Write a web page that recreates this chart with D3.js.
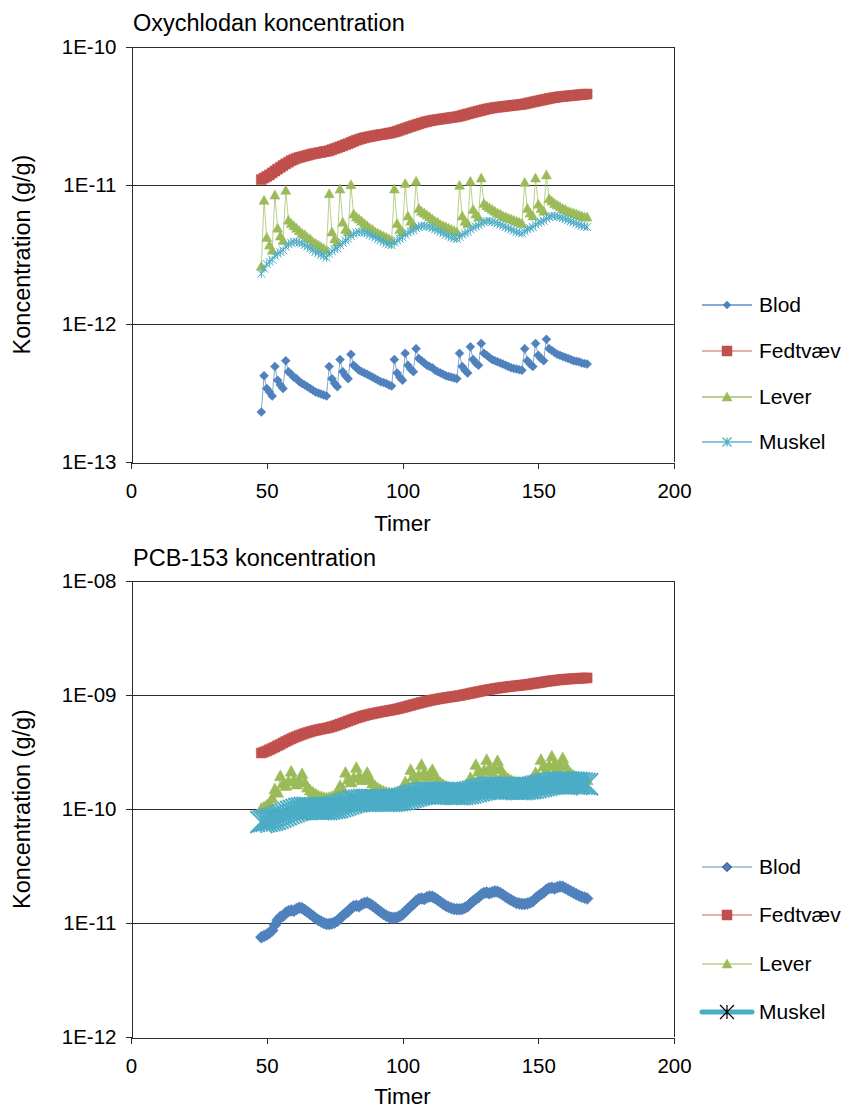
<!DOCTYPE html>
<html>
<head>
<meta charset="utf-8">
<script src="https://cdn.jsdelivr.net/npm/d3@7"></script>
<style>
  body { margin: 0; background: #fff; }
  svg { display: block; font-family: "Liberation Sans", Arial, sans-serif; }
</style>
</head>
<body>
<svg id="chart" width="845" height="1110"></svg>
<script>
// All concentrations below are in units of 1E-12 g/g
const UNIT = 1e-12;

// sampling times (hours)
const hours = [
  48, 49, 50, 51, 52, 53, 54, 55, 56, 57, 58, 59, 60, 61, 62, 63, 64, 65, 66, 67, 68, 69, 70, 71, 72,
  73, 74, 75, 76, 77, 78, 79, 80, 81, 82, 83, 84, 85, 86, 87, 88, 89, 90, 91, 92, 93, 94, 95, 96,
  97, 98, 99, 100, 101, 102, 103, 104, 105, 106, 107, 108, 109, 110, 111, 112, 113, 114, 115, 116, 117, 118, 119, 120,
  121, 122, 123, 124, 125, 126, 127, 128, 129, 130, 131, 132, 133, 134, 135, 136, 137, 138, 139, 140, 141, 142, 143, 144,
  145, 146, 147, 148, 149, 150, 151, 152, 153, 154, 155, 156, 157, 158, 159, 160, 161, 162, 163, 164, 165, 166, 167, 168
];

const seriesNames = ["Blod", "Fedtvæv", "Lever", "Muskel"];
const seriesColors = ["#4f81bd", "#c0504d", "#9bbb59", "#4bacc6"];
const seriesMarkers = ["diamond", "square", "triangle", "asterisk"];

const xTicks = [0, 50, 100, 150, 200];

// ---- Oxychlodan ----
const oxyBlod = [
  0.23, 0.42, 0.34, 0.32, 0.30, 0.49, 0.39, 0.36, 0.34, 0.54, 0.45, 0.43, 0.41, 0.40, 0.38, 0.37, 0.36, 0.35, 0.34, 0.33, 0.32, 0.315, 0.31, 0.305, 0.30,
  0.49, 0.40, 0.37, 0.35, 0.55, 0.45, 0.42, 0.40, 0.60, 0.50, 0.48, 0.46, 0.45, 0.44, 0.43, 0.42, 0.41, 0.40, 0.39, 0.38, 0.375, 0.37, 0.36, 0.355,
  0.55, 0.44, 0.41, 0.39, 0.61, 0.50, 0.47, 0.45, 0.66, 0.56, 0.54, 0.52, 0.50, 0.49, 0.48, 0.46, 0.45, 0.44, 0.43, 0.42, 0.415, 0.41, 0.405, 0.40,
  0.61, 0.49, 0.46, 0.44, 0.68, 0.55, 0.52, 0.50, 0.72, 0.61, 0.59, 0.57, 0.55, 0.54, 0.53, 0.52, 0.51, 0.50, 0.49, 0.48, 0.475, 0.47, 0.465, 0.46,
  0.66, 0.54, 0.51, 0.49, 0.72, 0.59, 0.56, 0.54, 0.77, 0.66, 0.64, 0.62, 0.60, 0.59, 0.58, 0.57, 0.56, 0.55, 0.54, 0.535, 0.53, 0.52, 0.515, 0.51
];
const oxyFedt = [
  11.0, 11.3, 11.6, 11.9, 12.3, 12.7, 13.1, 13.5, 13.9, 14.3, 14.7, 15.1, 15.4, 15.7, 15.9, 16.1, 16.3, 16.5, 16.7, 16.9, 17.0, 17.2, 17.3, 17.5, 17.6,
  17.8, 18.1, 18.4, 18.7, 19.0, 19.3, 19.7, 20.0, 20.4, 20.8, 21.2, 21.5, 21.8, 22.1, 22.3, 22.5, 22.7, 22.9, 23.1, 23.3, 23.4, 23.6, 23.8, 24.0,
  24.3, 24.6, 25.0, 25.4, 25.8, 26.2, 26.6, 27.0, 27.4, 27.8, 28.2, 28.6, 28.9, 29.2, 29.5, 29.7, 29.9, 30.1, 30.3, 30.5, 30.7, 30.9, 31.1, 31.3,
  31.6, 32.0, 32.4, 32.8, 33.2, 33.6, 34.0, 34.4, 34.8, 35.2, 35.6, 35.9, 36.2, 36.5, 36.7, 36.9, 37.1, 37.3, 37.5, 37.7, 37.9, 38.1, 38.3, 38.5,
  38.8, 39.2, 39.6, 40.0, 40.4, 40.8, 41.2, 41.6, 42.0, 42.4, 42.8, 43.1, 43.4, 43.7, 43.9, 44.1, 44.3, 44.5, 44.7, 44.9, 45.1, 45.3, 45.5, 45.7
];
const oxyLever = [
  2.6, 7.8, 4.2, 3.7, 3.4, 8.5, 4.9, 4.3, 4.0, 9.2, 5.6, 5.3, 5.1, 4.9, 4.7, 4.5, 4.4, 4.2, 4.1, 3.9, 3.8, 3.7, 3.6, 3.5, 3.4,
  8.7, 4.6, 4.1, 3.9, 9.4, 5.4, 4.8, 4.6, 10.1, 6.2, 5.9, 5.7, 5.5, 5.3, 5.1, 4.9, 4.8, 4.6, 4.5, 4.4, 4.3, 4.2, 4.1, 4.0,
  9.4, 5.3, 4.8, 4.6, 10.3, 6.0, 5.5, 5.2, 10.7, 6.8, 6.5, 6.3, 6.1, 5.9, 5.7, 5.5, 5.4, 5.2, 5.1, 5.0, 4.9, 4.8, 4.7, 4.6,
  10.0, 6.0, 5.5, 5.3, 10.7, 6.7, 6.2, 5.9, 11.3, 7.4, 7.1, 6.9, 6.7, 6.5, 6.3, 6.2, 6.0, 5.9, 5.8, 5.7, 5.6, 5.5, 5.4, 5.3,
  10.5, 6.8, 6.3, 6.0, 11.3, 7.3, 6.8, 6.5, 11.9, 8.0, 7.7, 7.4, 7.2, 7.0, 6.8, 6.7, 6.5, 6.4, 6.3, 6.2, 6.1, 6.0, 5.9, 5.9
];
const oxyMuskel = [
  2.3, 2.5, 2.7, 2.8, 2.9, 3.1, 3.2, 3.3, 3.4, 3.6, 3.75, 3.85, 3.9, 3.9, 3.85, 3.8, 3.7, 3.6, 3.5, 3.4, 3.3, 3.25, 3.15, 3.1, 3.0,
  3.2, 3.35, 3.45, 3.5, 3.7, 3.85, 4.0, 4.1, 4.3, 4.45, 4.55, 4.6, 4.6, 4.55, 4.5, 4.4, 4.3, 4.2, 4.1, 4.0, 3.9, 3.8, 3.75, 3.7,
  3.85, 4.0, 4.1, 4.2, 4.4, 4.55, 4.65, 4.75, 4.9, 5.0, 5.1, 5.1, 5.05, 5.0, 4.9, 4.8, 4.7, 4.6, 4.5, 4.4, 4.3, 4.2, 4.15, 4.1,
  4.25, 4.4, 4.5, 4.6, 4.8, 4.95, 5.05, 5.15, 5.3, 5.45, 5.5, 5.5, 5.45, 5.4, 5.3, 5.2, 5.1, 5.0, 4.9, 4.8, 4.7, 4.6, 4.55, 4.5,
  4.65, 4.8, 4.9, 5.0, 5.2, 5.35, 5.45, 5.55, 5.75, 5.9, 6.0, 6.0, 5.95, 5.9, 5.8, 5.7, 5.6, 5.5, 5.4, 5.3, 5.2, 5.1, 5.05, 5.0
];
const oxyYTicks = [1e-13, 1e-12, 1e-11, 1e-10];
const oxyYLabels = ["1E-13", "1E-12", "1E-11", "1E-10"];

// ---- PCB-153 ----
const pcbBlod = [
  7.5, 7.7, 7.9, 8.2, 8.6, 9.6, 10.6, 11.3, 11.5, 12.3, 12.7, 12.9, 12.8, 13.3, 13.6, 13.5, 13.0, 12.5, 12.0, 11.5, 11.0, 10.6, 10.3, 10.0, 9.8,
  9.8, 9.9, 10.1, 10.4, 11.0, 11.6, 12.2, 12.6, 13.5, 14.0, 14.2, 14.0, 14.6, 15.0, 15.1, 14.7, 14.2, 13.6, 13.0, 12.5, 12.0, 11.6, 11.3, 11.1,
  11.1, 11.2, 11.5, 11.9, 12.6, 13.3, 14.0, 14.6, 15.6, 16.2, 16.4, 16.2, 16.8, 17.1, 17.0, 16.5, 15.9, 15.3, 14.7, 14.2, 13.8, 13.5, 13.3, 13.2,
  13.2, 13.3, 13.6, 14.0, 14.8, 15.5, 16.2, 16.8, 17.8, 18.3, 18.5, 18.2, 18.6, 18.9, 18.8, 18.3, 17.7, 17.0, 16.4, 15.9, 15.4, 15.0, 14.8, 14.7,
  14.7, 14.8, 15.1, 15.5, 16.4, 17.2, 17.9, 18.5, 19.6, 20.2, 20.4, 20.1, 20.6, 20.9, 20.8, 20.2, 19.6, 19.0, 18.4, 17.9, 17.4, 17.0, 16.7, 16.4
];
const pcbFedt = [
  310, 316, 323, 331, 340, 349, 359, 369, 380, 391, 402, 413, 423, 433, 442, 451, 460, 468, 476, 483, 490, 496, 502, 507, 512,
  519, 527, 536, 546, 557, 568, 580, 592, 604, 616, 628, 639, 650, 660, 669, 678, 686, 694, 702, 710, 717, 724, 731, 738,
  746, 755, 765, 776, 787, 799, 811, 823, 835, 847, 859, 871, 882, 893, 903, 913, 922, 931, 940, 948, 956, 964, 972, 980,
  989, 999, 1010, 1022, 1034, 1046, 1058, 1070, 1082, 1094, 1106, 1117, 1128, 1138, 1148, 1157, 1166, 1175, 1183, 1191, 1199, 1206, 1213, 1220,
  1228, 1237, 1247, 1258, 1269, 1280, 1291, 1302, 1313, 1324, 1334, 1343, 1352, 1360, 1367, 1374, 1380, 1386, 1391, 1396, 1400, 1404, 1408, 1412
];
const pcbLever = [
  101, 104, 108, 113, 125, 150, 140, 195, 168, 160, 175, 214, 180, 165, 178, 204, 172, 155, 146, 140, 135, 131, 128, 126, 125,
  126, 128, 132, 140, 160, 150, 209, 182, 172, 188, 231, 195, 180, 190, 209, 182, 168, 158, 152, 147, 143, 140, 138, 136,
  137, 139, 143, 152, 172, 162, 221, 195, 182, 198, 245, 208, 192, 202, 221, 195, 180, 170, 163, 158, 154, 151, 149, 147,
  148, 150, 155, 165, 188, 176, 245, 215, 200, 218, 271, 230, 212, 225, 265, 228, 205, 192, 184, 178, 174, 171, 169, 168,
  169, 171, 175, 185, 208, 195, 271, 238, 222, 240, 290, 248, 230, 242, 280, 240, 218, 205, 197, 191, 187, 184, 182, 180
];
const pcbMuskel = [
  77, 78, 79, 80, 81, 82, 84, 86, 88, 90, 92, 94, 96, 98, 100, 101, 102, 102, 102, 101, 101, 100, 100, 100, 100,
  101, 102, 103, 104, 106, 108, 110, 112, 114, 116, 117, 118, 119, 120, 120, 120, 120, 120, 119, 119, 118, 118, 118, 118,
  119, 120, 121, 122, 124, 126, 128, 130, 132, 134, 136, 137, 138, 138, 139, 139, 139, 138, 138, 137, 137, 136, 136, 135,
  135, 136, 137, 138, 140, 142, 144, 146, 148, 150, 152, 153, 154, 154, 154, 154, 153, 152, 152, 151, 151, 150, 150, 150,
  151, 152, 153, 154, 156, 158, 160, 162, 164, 166, 167, 168, 169, 170, 170, 171, 171, 170, 170, 169, 168, 167, 166, 165
];
const pcbYTicks = [1e-12, 1e-11, 1e-10, 1e-9, 1e-8];
const pcbYLabels = ["1E-12", "1E-11", "1E-10", "1E-09", "1E-08"];

// marker shapes, r = half size in px
function markerPath(type, r) {
    switch (type) {
        case "diamond":  return `M0,${-r}L${r},0L0,${r}L${-r},0Z`;
        case "square":   return `M${-r},${-r}H${r}V${r}H${-r}Z`;
        case "triangle": return `M0,${-r}L${r},${r * 0.8}L${-r},${r * 0.8}Z`;
        case "asterisk": return `M${-r},${-r}L${r},${r}M${-r},${r}L${r},${-r}M0,${-r}L0,${r}`;
    }
}

function drawChart(svg, c) {
    const x = d3.scaleLinear().domain([0, 200]).range([c.left, c.right]);
    const y = d3.scaleLog()
        .domain([c.yTicks[0], c.yTicks[c.yTicks.length - 1]])
        .range([c.bottom, c.top]);
    const crisp = v => Math.round(v) + 0.5;

    const g = svg.append("g");

    // horizontal gridlines + right border of plot area
    g.append("g").selectAll("line")
        .data(c.yTicks.slice(1))
        .join("line")
        .attr("x1", c.left).attr("x2", c.right)
        .attr("y1", d => crisp(y(d))).attr("y2", d => crisp(y(d)))
        .attr("stroke", "#2b2b2b");
    g.append("line")
        .attr("x1", crisp(c.right)).attr("x2", crisp(c.right))
        .attr("y1", c.top).attr("y2", c.bottom)
        .attr("stroke", "#2b2b2b");

    // axes
    const yAxis = g.append("g")
        .attr("transform", `translate(${crisp(c.left)},0)`)
        .call(d3.axisLeft(y)
            .tickValues(c.yTicks)
            .tickFormat((d, i) => c.yLabels[i])
            .tickSize(6).tickSizeOuter(0).tickPadding(9));
    const xAxis = g.append("g")
        .attr("transform", `translate(0,${crisp(c.bottom)})`)
        .call(d3.axisBottom(x)
            .tickValues(xTicks)
            .tickSize(6).tickSizeOuter(0).tickPadding(15));
    [yAxis, xAxis].forEach(a => {
        a.selectAll("path, line").attr("stroke", "#2b2b2b").attr("shape-rendering", "crispEdges");
        a.selectAll("text")
            .attr("fill", "#000")
            .style("font-size", "20.5px")
            .style("font-family", "'Liberation Sans', Arial, sans-serif");
    });

    // titles
    g.append("text")
        .attr("x", c.left + 2).attr("y", c.titleY)
        .style("font-size", "23.5px")
        .text(c.title);
    g.append("text")
        .attr("x", (c.left + c.right) / 2).attr("y", c.xTitleY)
        .attr("text-anchor", "middle")
        .style("font-size", "22.5px")
        .text("Timer");
    g.append("text")
        .attr("transform", `translate(30,${(c.top + c.bottom) / 2}) rotate(-90)`)
        .attr("text-anchor", "middle")
        .style("font-size", "23.5px")
        .text("Koncentration (g/g)");

    // series: line then markers, in legend order
    c.series.forEach((values, si) => {
        const st = c.styles[si];
        const color = seriesColors[si];
        const pts = hours.map((h, i) => [x(h), y(values[i] * UNIT)]);

        g.append("path")
            .attr("d", d3.line()(pts))
            .attr("fill", "none")
            .attr("stroke", color)
            .attr("stroke-opacity", st.lineOpacity)
            .attr("stroke-width", st.lineWidth)
            .attr("stroke-linejoin", "round");

        const isStroke = seriesMarkers[si] === "asterisk";
        g.append("g").selectAll("path")
            .data(pts)
            .join("path")
            .attr("transform", d => `translate(${d[0]},${d[1]})`)
            .attr("d", markerPath(seriesMarkers[si], st.r))
            .attr("fill", isStroke ? "none" : color)
            .attr("stroke", color)
            .attr("stroke-width", isStroke ? st.markerStroke : 0.5);
    });

    // legend
    const leg = g.append("g");
    seriesNames.forEach((name, si) => {
        const st = c.styles[si];
        const ly = c.legendY[si];
        const color = seriesColors[si];
        leg.append("line")
            .attr("x1", 702).attr("x2", 752)
            .attr("y1", ly).attr("y2", ly)
            .attr("stroke", color)
            .attr("stroke-opacity", st.legendLineOpacity)
            .attr("stroke-width", st.legendLineWidth)
            .attr("stroke-linecap", st.legendLineWidth > 3 ? "round" : "butt");
        const isStroke = seriesMarkers[si] === "asterisk";
        const mc = st.legendMarkerColor || color;
        leg.append("path")
            .attr("transform", `translate(727,${ly})`)
            .attr("d", markerPath(seriesMarkers[si], st.legendR))
            .attr("fill", isStroke ? "none" : color)
            .attr("stroke", mc)
            .attr("stroke-width", isStroke ? 1.2 : (st.legendMarkerColor ? 1 : 0.5));
        leg.append("text")
            .attr("x", 759).attr("y", ly)
            .attr("dy", "0.35em")
            .style("font-size", "21px")
            .text(name);
    });
}

const svg = d3.select("#chart");

drawChart(svg, {
    title: "Oxychlodan koncentration",
    titleY: 31,
    xTitleY: 531,
    left: 131, right: 674, top: 47, bottom: 462,
    yTicks: oxyYTicks, yLabels: oxyYLabels,
    series: [oxyBlod, oxyFedt, oxyLever, oxyMuskel],
    legendY: [305, 351, 397, 442],
    styles: [
        { r: 4.5, lineWidth: 1, lineOpacity: 0.7, markerStroke: 1, legendR: 4, legendLineWidth: 1.3, legendLineOpacity: 0.9 },
        { r: 5, lineWidth: 1, lineOpacity: 0.7, markerStroke: 1, legendR: 5, legendLineWidth: 1.3, legendLineOpacity: 0.6 },
        { r: 5, lineWidth: 1, lineOpacity: 0.7, markerStroke: 1, legendR: 5, legendLineWidth: 1.3, legendLineOpacity: 0.9 },
        { r: 4, lineWidth: 1, lineOpacity: 0.7, markerStroke: 1, legendR: 4.5, legendLineWidth: 1.3, legendLineOpacity: 0.9 }
    ]
});

drawChart(svg, {
    title: "PCB-153 koncentration",
    titleY: 566,
    xTitleY: 1104,
    left: 131, right: 674, top: 581, bottom: 1037,
    yTicks: pcbYTicks, yLabels: pcbYLabels,
    series: [pcbBlod, pcbFedt, pcbLever, pcbMuskel],
    legendY: [867, 915, 964, 1012],
    styles: [
        { r: 6, lineWidth: 1, lineOpacity: 0.7, markerStroke: 1, legendR: 4.5, legendLineWidth: 1.3, legendLineOpacity: 0.6, legendMarkerColor: "#1f3a60" },
        { r: 5, lineWidth: 1, lineOpacity: 0.7, markerStroke: 1, legendR: 5, legendLineWidth: 1.3, legendLineOpacity: 0.6 },
        { r: 6, lineWidth: 1, lineOpacity: 0.7, markerStroke: 1, legendR: 5, legendLineWidth: 1.3, legendLineOpacity: 0.7 },
        { r: 11, lineWidth: 5, lineOpacity: 1, markerStroke: 2, legendR: 7, legendLineWidth: 5, legendLineOpacity: 1, legendMarkerColor: "#000" }
    ]
});
</script>
</body>
</html>
